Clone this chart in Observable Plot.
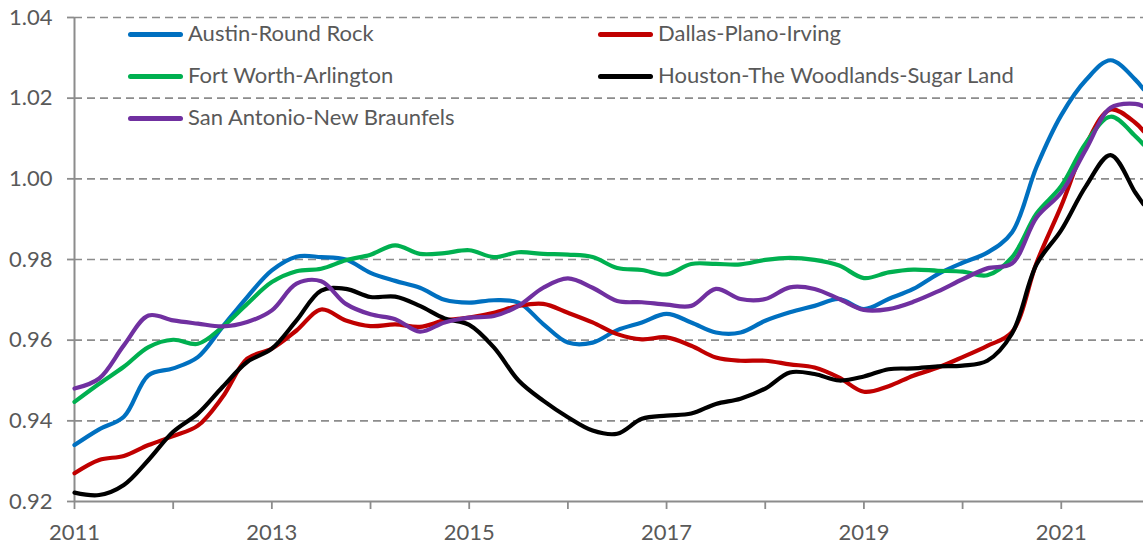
<!DOCTYPE html>
<html>
<head>
<meta charset="utf-8">
<script src="https://cdn.jsdelivr.net/npm/d3@7"></script>
<script src="https://cdn.jsdelivr.net/npm/@observablehq/plot@0.6"></script>
<style>
  body { margin: 0; background: #fff; }
  #wrap { position: relative; width: 1143px; height: 546px; font-family: Lato, "Open Sans", sans-serif; }
  .leg { position: absolute; display: flex; align-items: center; height: 26px; font-size: 22px; color: #595959; white-space: nowrap; }
  .leg span { position: relative; top: -2px; }
  .sw { width: 55px; height: 5px; border-radius: 3px; margin-right: 5px; }
</style>
</head>
<body>
<div id="wrap"><div id="chart"></div></div>
<script>
const dates = [
  "2011-01","2011-04","2011-07","2011-10","2012-01","2012-04","2012-07","2012-10",
  "2013-01","2013-04","2013-07","2013-10","2014-01","2014-04","2014-07","2014-10",
  "2015-01","2015-04","2015-07","2015-10","2016-01","2016-04","2016-07","2016-10",
  "2017-01","2017-04","2017-07","2017-10","2018-01","2018-04","2018-07","2018-10",
  "2019-01","2019-04","2019-07","2019-10","2020-01","2020-04","2020-07","2020-10",
  "2021-01","2021-04","2021-07","2021-10","2021-11"
];
const seriesNames = ["Austin-Round Rock","Dallas-Plano-Irving","Fort Worth-Arlington","Houston-The Woodlands-Sugar Land","San Antonio-New Braunfels"];
const seriesColors = ["#0070C0","#C00000","#00B050","#000000","#7030A0"];

const austin = [0.934,0.9379,0.941,0.9513,0.953,0.9558,0.9633,0.9707,0.9773,0.9807,0.9806,0.980,
  0.9767,0.9747,0.973,0.970,0.9693,0.9699,0.9693,0.964,0.9594,0.9594,0.9625,
  0.9644,0.9665,0.9644,0.9619,0.9619,0.9648,0.9669,0.9685,0.9702,0.9677,0.9702,
  0.9727,0.9764,0.9792,0.9817,0.9867,1.003,1.0158,1.0245,1.0294,1.0246,1.0222];
const dallas = [0.927,0.9303,0.9313,0.934,0.9362,0.9388,0.9459,0.9554,0.9579,0.9624,0.9676,0.9649,
  0.9635,0.9639,0.9633,0.9649,0.9656,0.9668,0.9685,0.969,0.9668,0.9644,0.9615,
  0.9602,0.9607,0.9586,0.9557,0.9549,0.9549,0.954,0.9532,0.9507,0.9472,0.9486,
  0.9512,0.9532,0.9558,0.9586,0.962,0.9792,0.9933,1.0085,1.0172,1.0139,1.0118];
const fortWorth = [0.9447,0.9492,0.9534,0.9583,0.9601,0.9591,0.9633,0.969,0.9744,0.9771,0.9777,0.9798,
  0.9812,0.9835,0.9814,0.9816,0.9823,0.9806,0.9818,0.9814,0.9812,0.9806,0.9779,
  0.9774,0.9763,0.9789,0.9789,0.9788,0.9799,0.9804,0.9799,0.9785,0.9754,0.9768,
  0.9775,0.9772,0.977,0.9761,0.9805,0.9914,0.9982,1.0089,1.0154,1.0106,1.0085];
const houston = [0.9222,0.9216,0.9241,0.9303,0.9373,0.9418,0.9484,0.9546,0.9579,0.9649,0.9723,0.9727,
  0.9707,0.9708,0.9685,0.9654,0.9638,0.9582,0.950,0.945,0.9409,0.9376,0.9368,
  0.9405,0.9413,0.9418,0.9442,0.9455,0.948,0.952,0.9516,0.950,0.951,0.9528,
  0.953,0.9535,0.9537,0.9549,0.9616,0.9788,0.9873,0.9982,1.0059,0.9966,0.9937];
const sanAntonio = [0.948,0.9505,0.9587,0.9661,0.9649,0.9641,0.9634,0.9645,0.9674,0.974,0.9746,0.969,
  0.9664,0.9652,0.9621,0.9644,0.9656,0.966,0.9685,0.973,0.9753,0.973,0.9697,
  0.9694,0.9688,0.9685,0.9727,0.9702,0.9702,0.9731,0.9727,0.9702,0.9675,0.9677,
  0.9695,0.9721,0.9751,0.9778,0.979,0.9904,0.9966,1.0073,1.0176,1.0186,1.018];

const yTicks = [0.92,0.94,0.96,0.98,1.00,1.02,1.04];
const xTicks = [2011,2012,2013,2014,2015,2016,2017,2018,2019,2020,2021];

const toYear = s => +s.slice(0,4) + (+s.slice(5,7) - 1) / 12;
const allValues = [austin, dallas, fortWorth, houston, sanAntonio];
const rows = allValues.flatMap((vals, si) => vals.map((v, i) => ({t: toYear(dates[i]), v, name: seriesNames[si]})));

const chart = Plot.plot({
  width: 1143, height: 546,
  marginLeft: 74, marginRight: 0, marginTop: 17, marginBottom: 45,
  style: {fontFamily: "Lato, 'Open Sans', sans-serif", fontSize: "22px", background: "white", overflow: "visible"},
  x: {domain: [2011, toYear(dates[dates.length - 1])]},
  y: {domain: [0.92, 1.04]},
  color: {domain: seriesNames, range: seriesColors},
  marks: [
    Plot.ruleY(yTicks.filter(d => d > 0.92), {stroke: "#8c8c8c", strokeWidth: 1.6, strokeDasharray: "8,5"}),
    Plot.axisY({ticks: yTicks, tickFormat: d3.format(".2f"), tickSize: 7, tickPadding: 15, stroke: "#8c8c8c", fill: "#595959", strokeWidth: 1.8, strokeOpacity: 1, label: null}),
    Plot.ruleX([2011], {stroke: "#8c8c8c", strokeWidth: 2}),
    Plot.ruleY([0.92], {stroke: "#8c8c8c", strokeWidth: 2}),
    Plot.axisX({ticks: xTicks, tickFormat: d => d % 2 ? String(d) : "", tickSize: 8, tickPadding: 15, stroke: "#8c8c8c", fill: "#595959", strokeWidth: 1.8, strokeOpacity: 1, label: null}),
    Plot.line(rows, {x: "t", y: "v", z: "name", stroke: "name", strokeWidth: 4.2, curve: "catmull-rom", strokeLinejoin: "round", strokeLinecap: "round"})
  ]
});
document.getElementById("chart").appendChild(chart);

// legend overlay (two columns, three rows)
const legPos = [[128, 34], [598, 34], [128, 76], [598, 76], [128, 118]];
const wrap = document.getElementById("wrap");
seriesNames.forEach((n, i) => {
  const d = document.createElement("div");
  d.className = "leg";
  d.style.left = legPos[i][0] + "px";
  d.style.top = (legPos[i][1] - 13) + "px";
  const sw = document.createElement("div");
  sw.className = "sw";
  sw.style.background = seriesColors[i];
  const tx = document.createElement("span");
  tx.textContent = n;
  d.appendChild(sw); d.appendChild(tx);
  wrap.appendChild(d);
});
</script>
</body>
</html>
